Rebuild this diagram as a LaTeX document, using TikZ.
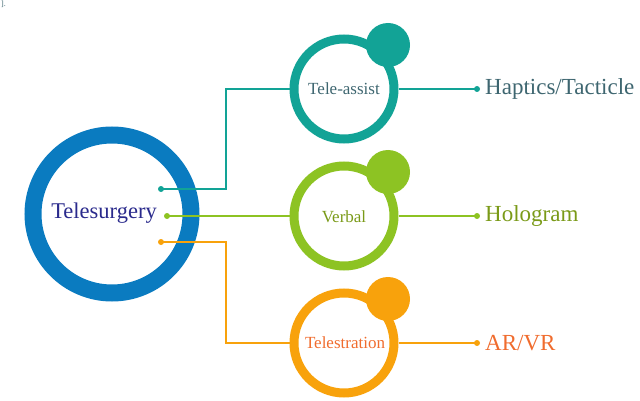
\documentclass[tikz,border=0pt]{standalone}
\usepackage{fontspec}
\setmainfont{Liberation Serif}
\definecolor{cblue}{HTML}{0A7BC0}
\definecolor{cteal}{HTML}{12A396}
\definecolor{cgreen}{HTML}{8DC323}
\definecolor{corange}{HTML}{F8A20C}
\definecolor{tnavy}{HTML}{2A2A8C}
\definecolor{tslate}{HTML}{3E6670}
\definecolor{tolive}{HTML}{7A9A18}
\definecolor{torange}{HTML}{F06C2E}
\begin{document}
\begin{tikzpicture}[x=1pt,y=-1pt,
  ring/.style={draw=#1,line width=9pt,circle,minimum size=100pt,inner sep=0pt},
  knob/.style={fill=#1,circle,minimum size=44pt,inner sep=0pt},
  conn/.style={draw=#1,line width=1.5pt},
  dotc/.style={fill=#1,circle,minimum size=6pt,inner sep=0pt},
  lbl/.style={font=\fontsize{23}{25}\selectfont,anchor=west,inner sep=0pt}]
\useasboundingbox (0,0) rectangle (640,401);
\node[anchor=north west,inner sep=0pt,font=\fontsize{8}{9}\selectfont,text=tslate] (stray) at (1,1) {].};
% main circle
\node[draw=cblue,line width=17pt,circle,minimum size=158pt,inner sep=0pt] (main) at (112,214) {};
\node[font=\fontsize{22.5}{24}\selectfont,text=tnavy,inner sep=0pt] (tmain) at (104,213) {Telesurgery};
\node[dotc=cteal] (d1) at (161,189) {};
\node[dotc=cgreen] (d2) at (167,216) {};
\node[dotc=corange] (d3) at (161,242) {};
% small rings
\node[knob=cteal] (k1) at (388,45) {};
\node[ring=cteal] (r1) at (344,89) {};
\node[knob=cgreen] (k2) at (388,172) {};
\node[ring=cgreen] (r2) at (344,216) {};
\node[knob=corange] (k3) at (388,299) {};
\node[ring=corange] (r3) at (344,343) {};
\node[font=\fontsize{17}{19}\selectfont,text=tslate,inner sep=0pt] (t1) at (344,89) {Tele-assist};
\node[font=\fontsize{17}{19}\selectfont,text=tolive,inner sep=0pt] (t2) at (344,217) {Verbal};
\node[font=\fontsize{17}{19}\selectfont,text=torange,inner sep=0pt] (t3) at (345,343) {Telestration};
% end dots
\node[dotc=cteal] (e1) at (477,89) {};
\node[dotc=cgreen] (e2) at (477,216) {};
\node[dotc=corange] (e3) at (477,343) {};
\node[lbl,text=tslate] (l1) at (485,89) {Haptics/Tacticle};
\node[lbl,text=tolive] (l2) at (485,216) {Hologram};
\node[lbl,text=torange] (l3) at (485,343) {AR/VR};
% connectors
\draw[conn=cteal] (d1.center) -- (226,189) |- (r1.west);
\draw[conn=cgreen] (d2.center) -- (r2.west);
\draw[conn=corange] (d3.center) -- (226,242) |- (r3.west);
\draw[conn=cteal] (r1.east) -- (e1.center);
\draw[conn=cgreen] (r2.east) -- (e2.center);
\draw[conn=corange] (r3.east) -- (e3.center);
\end{tikzpicture}
\end{document}
